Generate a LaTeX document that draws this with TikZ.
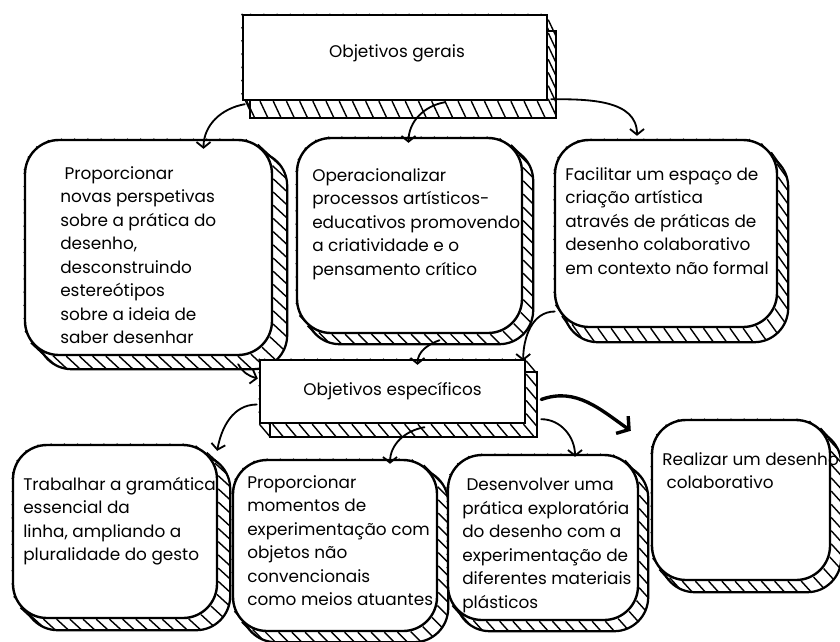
\documentclass[tikz,border=0pt]{standalone}
\usepackage{fontspec}
\setmainfont{Poppins}
\usetikzlibrary{arrows.meta,calc,fit,backgrounds,decorations.markings}

\tikzset{
    sketch/.style={draw, line width=1.7pt, fill=white, inner sep=0pt, rounded corners=#1},
    sketch/.default=0.85cm,
    backline/.style={draw, line width=1.6pt},
    hatch/.style={line width=1pt},
    boxtext/.style={anchor=north west, align=left, inner sep=0pt,
        font=\fontsize{12}{16.7}\selectfont},
    titletext/.style={inner sep=0pt, font=\fontsize{12}{16}\selectfont},
    link/.style={-{Straight Barb[length=4pt,width=10pt]}, line width=1.3pt, line cap=round},
    biglink/.style={-{Straight Barb[length=6pt,width=15pt]}, line width=2.4pt, line cap=round}
}

\newcommand{\hatchback}[4]{%
    \begin{scope}[on background layer]
        \path[rounded corners=#4, decorate, decoration={markings,
            mark=between positions 0 and 1 step 0.33cm with {%
                \pgftransformresetnontranslations
                \draw[hatch] (0,0) -- (#2,#3);}}]
            (#1.north west) rectangle (#1.south east);
        \draw[backline, rounded corners=#4]
            ($(#1.north west)+(#2,#3)$) rectangle ($(#1.south east)+(#2,#3)$);
    \end{scope}
}

\begin{document}
\begin{tikzpicture}[x=0.025cm, y=-0.025cm]
    \path[use as bounding box] (0,0) rectangle (840,641);

    \node[sketch=0pt, fit={(243,15) (547,100)}] (gerais) {};
    \node[sketch, fit={(25,140) (272,355)}] (g1) {};
    \node[sketch, fit={(297,138) (522,333)}] (g2) {};
    \node[sketch, fit={(555,140) (777,327)}] (g3) {};
    \node[sketch=0pt, fit={(260,360) (525,423)}] (spec) {};
    \node[sketch, fit={(13,445) (217,618)}] (s1) {};
    \node[sketch, fit={(233,460) (437,631)}] (s2) {};
    \node[sketch, fit={(448,455) (638,620)}] (s3) {};
    \node[sketch, fit={(652,420) (830,580)}] (s4) {};

    \foreach \n/\dx/\dy/\r in {gerais/8/17/0pt, spec/11/13/0pt,
        g1/14/13/0.85cm, g2/10/10/0.85cm, g3/10/14/0.85cm,
        s1/12/11/0.85cm, s2/10/10/0.85cm, s3/9/10/0.85cm, s4/10/11/0.85cm}
        \hatchback{\n}{\dx}{\dy}{\r};

    \node[titletext] (tgerais) at ($(gerais.center)+(2,-4)$) {Objetivos gerais};
    \node[titletext] (tspec) at (spec.center) {Objetivos específicos};
    \node[boxtext] (t1) at (60,166) {\hspace*{0.25em}Proporcionar\\novas perspetivas\\sobre a prática do\\desenho,\\desconstruindo\\estereótipos\\sobre a ideia de\\saber desenhar};
    \node[boxtext] (t2) at (312,168) {Operacionalizar\\processos artísticos-\\educativos promovendo\\a criatividade e o\\pensamento crítico};
    \node[boxtext] (t3) at (565,167) {Facilitar um espaço de\\criação artística\\através de práticas de\\desenho colaborativo\\em contexto não formal};
    \node[boxtext] (u1) at (23,477) {Trabalhar a gramática\\essencial da\\linha, ampliando a\\pluralidade do gesto};
    \node[boxtext] (u2) at (247,475) {Proporcionar\\momentos de\\experimentação com\\objetos não\\convencionais\\como meios atuantes};
    \node[boxtext] (u3) at (462,478) {\hspace*{0.25em}Desenvolver uma\\prática exploratória\\do desenho com a\\experimentação de\\diferentes materiais\\plásticos};
    \node[boxtext] (u4) at (662,452) {Realizar um desenho\\\hspace*{0.25em}colaborativo};

    \draw[link] ($(gerais.south west)+(3,3)$) to[out=190,in=90] ($(g1.north)+(55,10)$);
    \draw[link] ($(gerais.south)+(50,1)$) to[out=190,in=90] ($(g2.north)+(-1,6)$);
    \draw[link] ($(gerais.south east)+(3,-2)$) to[out=0,in=90] ($(g3.north)+(-29,-3)$);
    \draw[link] ($(g1.south east)+(-35,8)$) to[out=-60,in=165] ($(spec.west)+(-1,-13)$);
    \draw[link] ($(g2.south)+(30,6)$) to[out=200,in=90] ($(spec.north)+(25,6)$);
    \draw[link] ($(g3.west)+(1,78)$) to[out=180,in=90] ($(spec.north east)+(-3,2)$);
    \draw[link] ($(spec.west)+(-2,13)$) to[out=180,in=80] ($(s1.north east)+(-1,7)$);
    \draw[link] ($(spec.south)+(32,3)$) to[out=190,in=90] ($(s2.north)+(55,5)$);
    \draw[link] ($(spec.south east)+(15,-5)$) to[out=0,in=90] ($(s3.north)+(32,3)$);
    \draw[biglink] ($(spec.east)+(15,8)$) to[out=20,in=145] ($(s4.north west)+(-20,12)$);
\end{tikzpicture}
\end{document}
